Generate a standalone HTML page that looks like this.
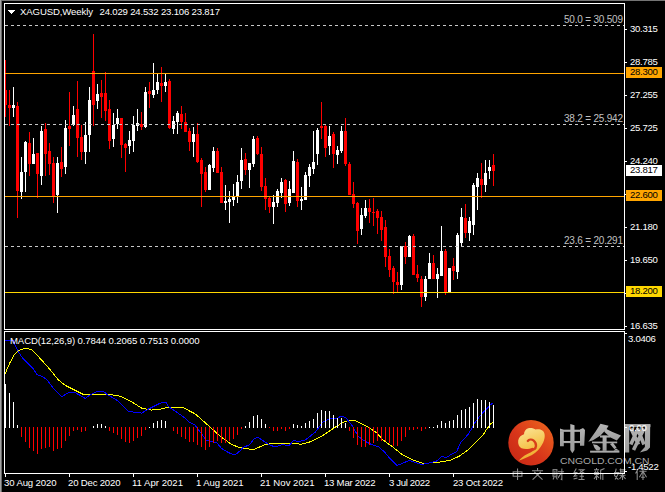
<!DOCTYPE html>
<html><head><meta charset="utf-8"><style>
html,body{margin:0;padding:0;background:#000;width:665px;height:492px;overflow:hidden}
svg{display:block}
text{font-family:"Liberation Sans", sans-serif;}
</style></head><body>
<svg width="665" height="492" viewBox="0 0 665 492" shape-rendering="crispEdges">
<rect x="0" y="0" width="665" height="492" fill="#000"/>
<rect x="0" y="0" width="665" height="1" fill="#747474"/>
<rect x="0" y="0" width="1" height="492" fill="#a2a2a2"/>
<rect x="1" y="1" width="1" height="492" fill="#686868"/>
<rect x="5" y="60" width="1" height="57" fill="#ff0000"/>
<rect x="5" y="90" width="2" height="15" fill="#ff0000"/>
<rect x="9" y="90" width="1" height="36" fill="#ff0000"/>
<rect x="8" y="105" width="3" height="3" fill="#ff0000"/>
<rect x="13" y="87" width="1" height="30" fill="#ffffff"/>
<rect x="12" y="105" width="3" height="3" fill="#ffffff"/>
<rect x="17" y="102" width="1" height="116" fill="#ff0000"/>
<rect x="16" y="106" width="3" height="85" fill="#ff0000"/>
<rect x="21" y="157" width="1" height="42" fill="#ffffff"/>
<rect x="20" y="172" width="3" height="20" fill="#ffffff"/>
<rect x="25" y="141" width="1" height="51" fill="#ffffff"/>
<rect x="24" y="142" width="3" height="30" fill="#ffffff"/>
<rect x="29" y="132" width="1" height="44" fill="#ff0000"/>
<rect x="28" y="143" width="3" height="21" fill="#ff0000"/>
<rect x="33" y="138" width="1" height="26" fill="#ffffff"/>
<rect x="32" y="154" width="3" height="10" fill="#ffffff"/>
<rect x="37" y="153" width="1" height="45" fill="#ff0000"/>
<rect x="36" y="153" width="3" height="21" fill="#ff0000"/>
<rect x="41" y="126" width="1" height="59" fill="#ffffff"/>
<rect x="40" y="131" width="3" height="45" fill="#ffffff"/>
<rect x="45" y="123" width="1" height="53" fill="#ff0000"/>
<rect x="44" y="129" width="3" height="25" fill="#ff0000"/>
<rect x="49" y="143" width="1" height="32" fill="#ff0000"/>
<rect x="48" y="151" width="3" height="13" fill="#ff0000"/>
<rect x="53" y="157" width="1" height="46" fill="#ff0000"/>
<rect x="52" y="163" width="3" height="33" fill="#ff0000"/>
<rect x="57" y="157" width="1" height="56" fill="#ffffff"/>
<rect x="56" y="163" width="3" height="32" fill="#ffffff"/>
<rect x="61" y="147" width="1" height="30" fill="#ff0000"/>
<rect x="60" y="162" width="3" height="7" fill="#ff0000"/>
<rect x="65" y="120" width="1" height="54" fill="#ffffff"/>
<rect x="64" y="128" width="3" height="39" fill="#ffffff"/>
<rect x="69" y="92" width="1" height="54" fill="#ff0000"/>
<rect x="68" y="126" width="3" height="3" fill="#ff0000"/>
<rect x="73" y="106" width="1" height="20" fill="#ffffff"/>
<rect x="72" y="115" width="3" height="10" fill="#ffffff"/>
<rect x="77" y="81" width="1" height="76" fill="#ff0000"/>
<rect x="76" y="109" width="3" height="29" fill="#ff0000"/>
<rect x="81" y="125" width="1" height="35" fill="#ff0000"/>
<rect x="80" y="137" width="3" height="15" fill="#ff0000"/>
<rect x="85" y="122" width="1" height="42" fill="#ffffff"/>
<rect x="84" y="135" width="3" height="17" fill="#ffffff"/>
<rect x="89" y="87" width="1" height="65" fill="#ffffff"/>
<rect x="88" y="100" width="3" height="35" fill="#ffffff"/>
<rect x="93" y="34" width="1" height="92" fill="#ff0000"/>
<rect x="92" y="71" width="3" height="34" fill="#ff0000"/>
<rect x="97" y="84" width="1" height="25" fill="#ffffff"/>
<rect x="96" y="94" width="3" height="7" fill="#ffffff"/>
<rect x="101" y="80" width="1" height="38" fill="#ff0000"/>
<rect x="100" y="93" width="3" height="4" fill="#ff0000"/>
<rect x="105" y="72" width="1" height="49" fill="#ff0000"/>
<rect x="104" y="93" width="3" height="18" fill="#ff0000"/>
<rect x="109" y="100" width="1" height="49" fill="#ff0000"/>
<rect x="108" y="109" width="3" height="32" fill="#ff0000"/>
<rect x="113" y="113" width="1" height="34" fill="#ffffff"/>
<rect x="112" y="125" width="3" height="14" fill="#ffffff"/>
<rect x="117" y="109" width="1" height="20" fill="#ffffff"/>
<rect x="116" y="118" width="3" height="6" fill="#ffffff"/>
<rect x="121" y="118" width="1" height="40" fill="#ff0000"/>
<rect x="120" y="118" width="3" height="27" fill="#ff0000"/>
<rect x="125" y="143" width="1" height="29" fill="#ff0000"/>
<rect x="124" y="144" width="3" height="4" fill="#ff0000"/>
<rect x="129" y="131" width="1" height="23" fill="#ffffff"/>
<rect x="128" y="140" width="3" height="6" fill="#ffffff"/>
<rect x="133" y="116" width="1" height="36" fill="#ffffff"/>
<rect x="132" y="125" width="3" height="16" fill="#ffffff"/>
<rect x="137" y="109" width="1" height="22" fill="#ffffff"/>
<rect x="136" y="123" width="3" height="3" fill="#ffffff"/>
<rect x="141" y="112" width="1" height="18" fill="#ff0000"/>
<rect x="140" y="124" width="3" height="3" fill="#ff0000"/>
<rect x="145" y="87" width="1" height="41" fill="#ffffff"/>
<rect x="144" y="92" width="3" height="35" fill="#ffffff"/>
<rect x="149" y="82" width="1" height="26" fill="#ff0000"/>
<rect x="148" y="91" width="3" height="3" fill="#ff0000"/>
<rect x="153" y="63" width="1" height="35" fill="#ffffff"/>
<rect x="152" y="90" width="3" height="5" fill="#ffffff"/>
<rect x="157" y="74" width="1" height="20" fill="#ffffff"/>
<rect x="156" y="82" width="3" height="8" fill="#ffffff"/>
<rect x="161" y="67" width="1" height="35" fill="#ff0000"/>
<rect x="160" y="83" width="3" height="3" fill="#ff0000"/>
<rect x="165" y="74" width="1" height="18" fill="#ffffff"/>
<rect x="164" y="82" width="3" height="4" fill="#ffffff"/>
<rect x="169" y="79" width="1" height="50" fill="#ff0000"/>
<rect x="168" y="81" width="3" height="47" fill="#ff0000"/>
<rect x="173" y="116" width="1" height="18" fill="#ffffff"/>
<rect x="172" y="121" width="3" height="8" fill="#ffffff"/>
<rect x="177" y="111" width="1" height="23" fill="#ffffff"/>
<rect x="176" y="113" width="3" height="9" fill="#ffffff"/>
<rect x="181" y="106" width="1" height="23" fill="#ff0000"/>
<rect x="180" y="114" width="3" height="8" fill="#ff0000"/>
<rect x="185" y="113" width="1" height="19" fill="#ff0000"/>
<rect x="184" y="122" width="3" height="10" fill="#ff0000"/>
<rect x="189" y="128" width="1" height="23" fill="#ff0000"/>
<rect x="188" y="131" width="3" height="11" fill="#ff0000"/>
<rect x="193" y="127" width="1" height="30" fill="#ffffff"/>
<rect x="192" y="134" width="3" height="8" fill="#ffffff"/>
<rect x="197" y="123" width="1" height="40" fill="#ff0000"/>
<rect x="196" y="134" width="3" height="28" fill="#ff0000"/>
<rect x="201" y="158" width="1" height="49" fill="#ff0000"/>
<rect x="200" y="160" width="3" height="14" fill="#ff0000"/>
<rect x="205" y="167" width="1" height="25" fill="#ff0000"/>
<rect x="204" y="172" width="3" height="18" fill="#ff0000"/>
<rect x="209" y="164" width="1" height="26" fill="#ffffff"/>
<rect x="208" y="165" width="3" height="25" fill="#ffffff"/>
<rect x="213" y="147" width="1" height="25" fill="#ffffff"/>
<rect x="212" y="151" width="3" height="17" fill="#ffffff"/>
<rect x="217" y="148" width="1" height="25" fill="#ff0000"/>
<rect x="216" y="151" width="3" height="22" fill="#ff0000"/>
<rect x="221" y="167" width="1" height="36" fill="#ff0000"/>
<rect x="220" y="172" width="3" height="31" fill="#ff0000"/>
<rect x="225" y="185" width="1" height="25" fill="#ffffff"/>
<rect x="224" y="201" width="3" height="2" fill="#ffffff"/>
<rect x="229" y="191" width="1" height="32" fill="#ffffff"/>
<rect x="228" y="199" width="3" height="3" fill="#ffffff"/>
<rect x="233" y="184" width="1" height="22" fill="#ffffff"/>
<rect x="232" y="197" width="3" height="3" fill="#ffffff"/>
<rect x="237" y="175" width="1" height="28" fill="#ffffff"/>
<rect x="236" y="182" width="3" height="14" fill="#ffffff"/>
<rect x="241" y="148" width="1" height="41" fill="#ffffff"/>
<rect x="240" y="160" width="3" height="21" fill="#ffffff"/>
<rect x="245" y="153" width="1" height="22" fill="#ff0000"/>
<rect x="244" y="159" width="3" height="11" fill="#ff0000"/>
<rect x="249" y="163" width="1" height="25" fill="#ffffff"/>
<rect x="248" y="163" width="3" height="7" fill="#ffffff"/>
<rect x="253" y="136" width="1" height="31" fill="#ffffff"/>
<rect x="252" y="139" width="3" height="25" fill="#ffffff"/>
<rect x="257" y="136" width="1" height="19" fill="#ff0000"/>
<rect x="256" y="138" width="3" height="16" fill="#ff0000"/>
<rect x="261" y="147" width="1" height="44" fill="#ff0000"/>
<rect x="260" y="154" width="3" height="33" fill="#ff0000"/>
<rect x="265" y="178" width="1" height="32" fill="#ff0000"/>
<rect x="264" y="186" width="3" height="13" fill="#ff0000"/>
<rect x="269" y="197" width="1" height="16" fill="#ff0000"/>
<rect x="268" y="198" width="3" height="9" fill="#ff0000"/>
<rect x="273" y="195" width="1" height="29" fill="#ffffff"/>
<rect x="272" y="202" width="3" height="5" fill="#ffffff"/>
<rect x="277" y="189" width="1" height="18" fill="#ffffff"/>
<rect x="276" y="191" width="3" height="12" fill="#ffffff"/>
<rect x="281" y="178" width="1" height="20" fill="#ffffff"/>
<rect x="280" y="182" width="3" height="11" fill="#ffffff"/>
<rect x="285" y="179" width="1" height="33" fill="#ff0000"/>
<rect x="284" y="180" width="3" height="24" fill="#ff0000"/>
<rect x="289" y="181" width="1" height="25" fill="#ffffff"/>
<rect x="288" y="189" width="3" height="14" fill="#ffffff"/>
<rect x="293" y="151" width="1" height="42" fill="#ffffff"/>
<rect x="292" y="161" width="3" height="32" fill="#ffffff"/>
<rect x="297" y="159" width="1" height="48" fill="#ff0000"/>
<rect x="296" y="162" width="3" height="39" fill="#ff0000"/>
<rect x="301" y="187" width="1" height="23" fill="#ffffff"/>
<rect x="300" y="199" width="3" height="2" fill="#ffffff"/>
<rect x="305" y="172" width="1" height="28" fill="#ffffff"/>
<rect x="304" y="175" width="3" height="25" fill="#ffffff"/>
<rect x="309" y="164" width="1" height="23" fill="#ffffff"/>
<rect x="308" y="167" width="3" height="9" fill="#ffffff"/>
<rect x="313" y="131" width="1" height="43" fill="#ffffff"/>
<rect x="312" y="162" width="3" height="7" fill="#ffffff"/>
<rect x="317" y="128" width="1" height="37" fill="#ffffff"/>
<rect x="316" y="130" width="3" height="24" fill="#ffffff"/>
<rect x="321" y="102" width="1" height="37" fill="#ff0000"/>
<rect x="320" y="126" width="3" height="2" fill="#ff0000"/>
<rect x="325" y="125" width="1" height="32" fill="#ff0000"/>
<rect x="324" y="126" width="3" height="22" fill="#ff0000"/>
<rect x="329" y="126" width="1" height="29" fill="#ffffff"/>
<rect x="328" y="136" width="3" height="10" fill="#ffffff"/>
<rect x="333" y="132" width="1" height="36" fill="#ff0000"/>
<rect x="332" y="134" width="3" height="20" fill="#ff0000"/>
<rect x="337" y="146" width="1" height="18" fill="#ffffff"/>
<rect x="336" y="150" width="3" height="5" fill="#ffffff"/>
<rect x="341" y="126" width="1" height="27" fill="#ffffff"/>
<rect x="340" y="131" width="3" height="20" fill="#ffffff"/>
<rect x="345" y="118" width="1" height="48" fill="#ff0000"/>
<rect x="344" y="131" width="3" height="33" fill="#ff0000"/>
<rect x="349" y="162" width="1" height="33" fill="#ff0000"/>
<rect x="348" y="164" width="3" height="31" fill="#ff0000"/>
<rect x="353" y="182" width="1" height="26" fill="#ff0000"/>
<rect x="352" y="194" width="3" height="10" fill="#ff0000"/>
<rect x="357" y="202" width="1" height="42" fill="#ff0000"/>
<rect x="356" y="203" width="3" height="28" fill="#ff0000"/>
<rect x="361" y="208" width="1" height="27" fill="#ffffff"/>
<rect x="360" y="215" width="3" height="14" fill="#ffffff"/>
<rect x="365" y="200" width="1" height="18" fill="#ffffff"/>
<rect x="364" y="208" width="3" height="8" fill="#ffffff"/>
<rect x="369" y="199" width="1" height="24" fill="#ff0000"/>
<rect x="368" y="208" width="3" height="4" fill="#ff0000"/>
<rect x="373" y="198" width="1" height="28" fill="#ff0000"/>
<rect x="372" y="212" width="3" height="1" fill="#ff0000"/>
<rect x="377" y="209" width="1" height="25" fill="#ff0000"/>
<rect x="376" y="211" width="3" height="7" fill="#ff0000"/>
<rect x="381" y="211" width="1" height="30" fill="#ff0000"/>
<rect x="380" y="217" width="3" height="13" fill="#ff0000"/>
<rect x="385" y="220" width="1" height="47" fill="#ff0000"/>
<rect x="384" y="227" width="3" height="30" fill="#ff0000"/>
<rect x="389" y="249" width="1" height="28" fill="#ff0000"/>
<rect x="388" y="256" width="3" height="14" fill="#ff0000"/>
<rect x="393" y="266" width="1" height="28" fill="#ff0000"/>
<rect x="392" y="268" width="3" height="14" fill="#ff0000"/>
<rect x="397" y="272" width="1" height="20" fill="#ff0000"/>
<rect x="396" y="282" width="3" height="3" fill="#ff0000"/>
<rect x="401" y="246" width="1" height="44" fill="#ffffff"/>
<rect x="400" y="246" width="3" height="39" fill="#ffffff"/>
<rect x="405" y="242" width="1" height="22" fill="#ff0000"/>
<rect x="404" y="246" width="3" height="11" fill="#ff0000"/>
<rect x="409" y="235" width="1" height="22" fill="#ffffff"/>
<rect x="408" y="236" width="3" height="21" fill="#ffffff"/>
<rect x="413" y="234" width="1" height="41" fill="#ff0000"/>
<rect x="412" y="236" width="3" height="39" fill="#ff0000"/>
<rect x="417" y="265" width="1" height="17" fill="#ff0000"/>
<rect x="416" y="274" width="3" height="4" fill="#ff0000"/>
<rect x="421" y="276" width="1" height="31" fill="#ff0000"/>
<rect x="420" y="279" width="3" height="18" fill="#ff0000"/>
<rect x="425" y="276" width="1" height="25" fill="#ffffff"/>
<rect x="424" y="279" width="3" height="18" fill="#ffffff"/>
<rect x="429" y="253" width="1" height="26" fill="#ffffff"/>
<rect x="428" y="263" width="3" height="16" fill="#ffffff"/>
<rect x="433" y="255" width="1" height="24" fill="#ff0000"/>
<rect x="432" y="263" width="3" height="16" fill="#ff0000"/>
<rect x="437" y="268" width="1" height="30" fill="#ffffff"/>
<rect x="436" y="274" width="3" height="5" fill="#ffffff"/>
<rect x="441" y="226" width="1" height="50" fill="#ffffff"/>
<rect x="440" y="251" width="3" height="25" fill="#ffffff"/>
<rect x="445" y="249" width="1" height="46" fill="#ff0000"/>
<rect x="444" y="251" width="3" height="41" fill="#ff0000"/>
<rect x="449" y="268" width="1" height="24" fill="#ffffff"/>
<rect x="448" y="268" width="3" height="24" fill="#ffffff"/>
<rect x="453" y="258" width="1" height="22" fill="#ff0000"/>
<rect x="452" y="266" width="3" height="5" fill="#ff0000"/>
<rect x="457" y="233" width="1" height="46" fill="#ffffff"/>
<rect x="456" y="235" width="3" height="37" fill="#ffffff"/>
<rect x="461" y="208" width="1" height="38" fill="#ffffff"/>
<rect x="460" y="217" width="3" height="26" fill="#ffffff"/>
<rect x="465" y="204" width="1" height="34" fill="#ff0000"/>
<rect x="464" y="218" width="3" height="15" fill="#ff0000"/>
<rect x="469" y="217" width="1" height="24" fill="#ffffff"/>
<rect x="468" y="221" width="3" height="12" fill="#ffffff"/>
<rect x="473" y="183" width="1" height="52" fill="#ffffff"/>
<rect x="472" y="185" width="3" height="40" fill="#ffffff"/>
<rect x="477" y="173" width="1" height="37" fill="#ffffff"/>
<rect x="476" y="178" width="3" height="9" fill="#ffffff"/>
<rect x="481" y="163" width="1" height="35" fill="#ff0000"/>
<rect x="480" y="179" width="3" height="6" fill="#ff0000"/>
<rect x="485" y="160" width="1" height="32" fill="#ffffff"/>
<rect x="484" y="173" width="3" height="12" fill="#ffffff"/>
<rect x="489" y="160" width="1" height="19" fill="#ffffff"/>
<rect x="488" y="167" width="3" height="4" fill="#ffffff"/>
<rect x="493" y="154" width="1" height="32" fill="#ff0000"/>
<rect x="492" y="165" width="3" height="6" fill="#ff0000"/>
<polyline points="5.0,374.0 9.5,363.5 14.4,354.6 19.3,350.2 25.8,348.0 32.3,350.2 38.8,357.0 46.9,366.0 51.8,371.7 58.3,379.8 65.0,385.2 75.0,390.3 83.0,394.3 95.2,394.3 110.6,394.6 120.4,396.3 131.8,402.0 141.5,408.0 151.3,410.1 159.4,409.3 163.0,408.5 167.9,407.3 182.5,407.3 195.5,414.1 210.2,427.2 219.9,436.1 231.3,444.2 237.8,447.0 243.0,448.3 253.6,449.6 264.1,445.0 271.5,443.4 290.2,443.4 301.5,444.2 311.3,441.5 319.4,437.2 323.0,435.3 332.8,428.8 342.5,422.6 349.0,420.3 354.7,420.3 366.9,426.3 376.7,432.8 383.2,440.2 391.3,445.9 403.0,455.1 411.4,459.4 423.6,463.4 437.8,462.4 450.0,460.4 459.1,456.3 468.0,449.9 477.8,440.2 483.0,435.0 487.4,428.2 490.6,424.1 492.7,422.1" fill="none" stroke="#ffff00" stroke-width="1" shape-rendering="crispEdges"/>
<polyline points="5.0,340.0 13.0,340.0 15.2,345.6 18.4,352.0 22.5,357.8 27.4,362.7 32.3,367.6 37.1,374.6 42.0,376.2 46.9,379.8 51.8,386.3 56.7,392.0 61.9,396.6 68.0,392.8 74.0,392.0 83.0,397.0 85.4,398.7 87.9,396.3 96.8,391.4 103.3,391.4 107.4,394.6 117.1,400.3 128.5,411.7 139.9,412.5 141.5,413.3 148.0,409.3 159.4,403.6 163.0,402.4 166.3,402.8 168.7,406.8 176.0,411.7 184.1,417.4 189.8,422.6 194.7,424.7 199.6,431.2 206.1,440.2 211.8,441.5 216.7,442.6 221.5,448.3 228.0,452.4 232.9,454.5 236.2,454.0 241.0,449.9 243.0,447.5 249.5,444.7 253.6,439.3 257.6,437.2 262.5,440.2 267.4,443.7 273.1,446.3 277.1,446.3 282.0,444.7 289.3,445.4 293.4,440.5 299.1,441.5 304.8,440.2 311.3,435.3 315.4,432.0 322.7,422.3 329.5,418.7 336.8,418.7 340.9,416.1 345.8,417.7 352.3,425.9 358.0,436.1 363.7,440.5 371.8,444.7 379.1,447.0 384.8,452.4 391.3,460.0 397.2,465.5 409.3,460.4 421.5,464.5 427.6,463.4 435.8,461.4 438.0,460.0 442.0,456.1 446.1,457.7 451.8,454.0 456.7,451.5 460.7,442.6 468.0,434.5 471.5,429.0 474.4,423.3 479.3,416.8 482.5,413.2 486.6,408.7 489.0,406.3 490.6,404.5 492.7,403.2" fill="none" stroke="#0000ff" stroke-width="1" shape-rendering="crispEdges"/>
<rect x="5" y="384" width="1" height="44" fill="#ffffff"/>
<rect x="9" y="393" width="1" height="35" fill="#ffffff"/>
<rect x="13" y="402" width="1" height="26" fill="#ffffff"/>
<rect x="17" y="425" width="1" height="3" fill="#ffffff"/>
<rect x="21" y="427" width="1" height="10" fill="#ff0000"/>
<rect x="25" y="427" width="1" height="15" fill="#ff0000"/>
<rect x="29" y="427" width="1" height="21" fill="#ff0000"/>
<rect x="33" y="427" width="1" height="24" fill="#ff0000"/>
<rect x="37" y="427" width="1" height="27" fill="#ff0000"/>
<rect x="41" y="427" width="1" height="22" fill="#ff0000"/>
<rect x="45" y="427" width="1" height="21" fill="#ff0000"/>
<rect x="49" y="427" width="1" height="20" fill="#ff0000"/>
<rect x="53" y="427" width="1" height="24" fill="#ff0000"/>
<rect x="57" y="427" width="1" height="22" fill="#ff0000"/>
<rect x="61" y="427" width="1" height="21" fill="#ff0000"/>
<rect x="65" y="427" width="1" height="14" fill="#ff0000"/>
<rect x="69" y="427" width="1" height="9" fill="#ff0000"/>
<rect x="73" y="427" width="1" height="4" fill="#ff0000"/>
<rect x="77" y="427" width="1" height="3" fill="#ff0000"/>
<rect x="81" y="427" width="1" height="5" fill="#ff0000"/>
<rect x="85" y="427" width="1" height="4" fill="#ff0000"/>
<rect x="93" y="426" width="1" height="2" fill="#ffffff"/>
<rect x="97" y="424" width="1" height="4" fill="#ffffff"/>
<rect x="101" y="424" width="1" height="4" fill="#ffffff"/>
<rect x="105" y="426" width="1" height="2" fill="#ffffff"/>
<rect x="109" y="427" width="1" height="4" fill="#ff0000"/>
<rect x="113" y="427" width="1" height="6" fill="#ff0000"/>
<rect x="117" y="427" width="1" height="8" fill="#ff0000"/>
<rect x="121" y="427" width="1" height="12" fill="#ff0000"/>
<rect x="125" y="427" width="1" height="15" fill="#ff0000"/>
<rect x="129" y="427" width="1" height="16" fill="#ff0000"/>
<rect x="133" y="427" width="1" height="14" fill="#ff0000"/>
<rect x="137" y="427" width="1" height="11" fill="#ff0000"/>
<rect x="141" y="427" width="1" height="9" fill="#ff0000"/>
<rect x="145" y="427" width="1" height="3" fill="#ff0000"/>
<rect x="149" y="427" width="1" height="1" fill="#ffffff"/>
<rect x="153" y="423" width="1" height="5" fill="#ffffff"/>
<rect x="157" y="421" width="1" height="7" fill="#ffffff"/>
<rect x="161" y="420" width="1" height="8" fill="#ffffff"/>
<rect x="165" y="421" width="1" height="7" fill="#ffffff"/>
<rect x="173" y="427" width="1" height="4" fill="#ff0000"/>
<rect x="177" y="427" width="1" height="7" fill="#ff0000"/>
<rect x="181" y="427" width="1" height="10" fill="#ff0000"/>
<rect x="185" y="427" width="1" height="12" fill="#ff0000"/>
<rect x="189" y="427" width="1" height="15" fill="#ff0000"/>
<rect x="193" y="427" width="1" height="15" fill="#ff0000"/>
<rect x="197" y="427" width="1" height="18" fill="#ff0000"/>
<rect x="201" y="427" width="1" height="20" fill="#ff0000"/>
<rect x="205" y="427" width="1" height="23" fill="#ff0000"/>
<rect x="209" y="427" width="1" height="20" fill="#ff0000"/>
<rect x="213" y="427" width="1" height="16" fill="#ff0000"/>
<rect x="217" y="427" width="1" height="14" fill="#ff0000"/>
<rect x="221" y="427" width="1" height="16" fill="#ff0000"/>
<rect x="225" y="427" width="1" height="16" fill="#ff0000"/>
<rect x="229" y="427" width="1" height="14" fill="#ff0000"/>
<rect x="233" y="427" width="1" height="12" fill="#ff0000"/>
<rect x="237" y="427" width="1" height="8" fill="#ff0000"/>
<rect x="241" y="427" width="1" height="2" fill="#ff0000"/>
<rect x="245" y="426" width="1" height="2" fill="#ffffff"/>
<rect x="249" y="422" width="1" height="6" fill="#ffffff"/>
<rect x="253" y="416" width="1" height="12" fill="#ffffff"/>
<rect x="257" y="415" width="1" height="13" fill="#ffffff"/>
<rect x="261" y="419" width="1" height="9" fill="#ffffff"/>
<rect x="265" y="424" width="1" height="4" fill="#ffffff"/>
<rect x="269" y="427" width="1" height="1" fill="#ff0000"/>
<rect x="273" y="427" width="1" height="4" fill="#ff0000"/>
<rect x="277" y="427" width="1" height="4" fill="#ff0000"/>
<rect x="281" y="427" width="1" height="2" fill="#ff0000"/>
<rect x="285" y="427" width="1" height="4" fill="#ff0000"/>
<rect x="289" y="427" width="1" height="2" fill="#ff0000"/>
<rect x="293" y="424" width="1" height="4" fill="#ffffff"/>
<rect x="297" y="425" width="1" height="3" fill="#ffffff"/>
<rect x="301" y="426" width="1" height="2" fill="#ffffff"/>
<rect x="305" y="423" width="1" height="5" fill="#ffffff"/>
<rect x="309" y="421" width="1" height="7" fill="#ffffff"/>
<rect x="313" y="419" width="1" height="9" fill="#ffffff"/>
<rect x="317" y="413" width="1" height="15" fill="#ffffff"/>
<rect x="321" y="410" width="1" height="18" fill="#ffffff"/>
<rect x="325" y="411" width="1" height="17" fill="#ffffff"/>
<rect x="329" y="411" width="1" height="17" fill="#ffffff"/>
<rect x="333" y="415" width="1" height="13" fill="#ffffff"/>
<rect x="337" y="418" width="1" height="10" fill="#ffffff"/>
<rect x="341" y="418" width="1" height="10" fill="#ffffff"/>
<rect x="345" y="423" width="1" height="5" fill="#ffffff"/>
<rect x="349" y="427" width="1" height="4" fill="#ff0000"/>
<rect x="353" y="427" width="1" height="11" fill="#ff0000"/>
<rect x="357" y="427" width="1" height="18" fill="#ff0000"/>
<rect x="361" y="427" width="1" height="20" fill="#ff0000"/>
<rect x="365" y="427" width="1" height="20" fill="#ff0000"/>
<rect x="369" y="427" width="1" height="18" fill="#ff0000"/>
<rect x="373" y="427" width="1" height="16" fill="#ff0000"/>
<rect x="377" y="427" width="1" height="14" fill="#ff0000"/>
<rect x="381" y="427" width="1" height="14" fill="#ff0000"/>
<rect x="385" y="427" width="1" height="14" fill="#ff0000"/>
<rect x="389" y="427" width="1" height="16" fill="#ff0000"/>
<rect x="393" y="427" width="1" height="19" fill="#ff0000"/>
<rect x="397" y="427" width="1" height="19" fill="#ff0000"/>
<rect x="401" y="427" width="1" height="14" fill="#ff0000"/>
<rect x="405" y="427" width="1" height="10" fill="#ff0000"/>
<rect x="409" y="427" width="1" height="3" fill="#ff0000"/>
<rect x="413" y="427" width="1" height="3" fill="#ff0000"/>
<rect x="417" y="427" width="1" height="2" fill="#ff0000"/>
<rect x="421" y="427" width="1" height="4" fill="#ff0000"/>
<rect x="425" y="427" width="1" height="2" fill="#ff0000"/>
<rect x="429" y="427" width="1" height="1" fill="#ffffff"/>
<rect x="433" y="427" width="1" height="1" fill="#ffffff"/>
<rect x="437" y="425" width="1" height="3" fill="#ffffff"/>
<rect x="441" y="421" width="1" height="7" fill="#ffffff"/>
<rect x="445" y="423" width="1" height="5" fill="#ffffff"/>
<rect x="449" y="421" width="1" height="7" fill="#ffffff"/>
<rect x="453" y="420" width="1" height="8" fill="#ffffff"/>
<rect x="457" y="415" width="1" height="13" fill="#ffffff"/>
<rect x="461" y="410" width="1" height="18" fill="#ffffff"/>
<rect x="465" y="409" width="1" height="19" fill="#ffffff"/>
<rect x="469" y="407" width="1" height="21" fill="#ffffff"/>
<rect x="473" y="403" width="1" height="25" fill="#ffffff"/>
<rect x="477" y="399" width="1" height="29" fill="#ffffff"/>
<rect x="481" y="400" width="1" height="28" fill="#ffffff"/>
<rect x="485" y="400" width="1" height="28" fill="#ffffff"/>
<rect x="489" y="402" width="1" height="26" fill="#ffffff"/>
<rect x="493" y="405" width="1" height="23" fill="#ffffff"/>
<rect x="5" y="25" width="3" height="1" fill="#c8c8c8"/>
<rect x="11" y="25" width="3" height="1" fill="#c8c8c8"/>
<rect x="17" y="25" width="3" height="1" fill="#c8c8c8"/>
<rect x="23" y="25" width="3" height="1" fill="#c8c8c8"/>
<rect x="29" y="25" width="3" height="1" fill="#c8c8c8"/>
<rect x="35" y="25" width="3" height="1" fill="#c8c8c8"/>
<rect x="41" y="25" width="3" height="1" fill="#c8c8c8"/>
<rect x="47" y="25" width="3" height="1" fill="#c8c8c8"/>
<rect x="53" y="25" width="3" height="1" fill="#c8c8c8"/>
<rect x="59" y="25" width="3" height="1" fill="#c8c8c8"/>
<rect x="65" y="25" width="3" height="1" fill="#c8c8c8"/>
<rect x="71" y="25" width="3" height="1" fill="#c8c8c8"/>
<rect x="77" y="25" width="3" height="1" fill="#c8c8c8"/>
<rect x="83" y="25" width="3" height="1" fill="#c8c8c8"/>
<rect x="89" y="25" width="3" height="1" fill="#c8c8c8"/>
<rect x="95" y="25" width="3" height="1" fill="#c8c8c8"/>
<rect x="101" y="25" width="3" height="1" fill="#c8c8c8"/>
<rect x="107" y="25" width="3" height="1" fill="#c8c8c8"/>
<rect x="113" y="25" width="3" height="1" fill="#c8c8c8"/>
<rect x="119" y="25" width="3" height="1" fill="#c8c8c8"/>
<rect x="125" y="25" width="3" height="1" fill="#c8c8c8"/>
<rect x="131" y="25" width="3" height="1" fill="#c8c8c8"/>
<rect x="137" y="25" width="3" height="1" fill="#c8c8c8"/>
<rect x="143" y="25" width="3" height="1" fill="#c8c8c8"/>
<rect x="149" y="25" width="3" height="1" fill="#c8c8c8"/>
<rect x="155" y="25" width="3" height="1" fill="#c8c8c8"/>
<rect x="161" y="25" width="3" height="1" fill="#c8c8c8"/>
<rect x="167" y="25" width="3" height="1" fill="#c8c8c8"/>
<rect x="173" y="25" width="3" height="1" fill="#c8c8c8"/>
<rect x="179" y="25" width="3" height="1" fill="#c8c8c8"/>
<rect x="185" y="25" width="3" height="1" fill="#c8c8c8"/>
<rect x="191" y="25" width="3" height="1" fill="#c8c8c8"/>
<rect x="197" y="25" width="3" height="1" fill="#c8c8c8"/>
<rect x="203" y="25" width="3" height="1" fill="#c8c8c8"/>
<rect x="209" y="25" width="3" height="1" fill="#c8c8c8"/>
<rect x="215" y="25" width="3" height="1" fill="#c8c8c8"/>
<rect x="221" y="25" width="3" height="1" fill="#c8c8c8"/>
<rect x="227" y="25" width="3" height="1" fill="#c8c8c8"/>
<rect x="233" y="25" width="3" height="1" fill="#c8c8c8"/>
<rect x="239" y="25" width="3" height="1" fill="#c8c8c8"/>
<rect x="245" y="25" width="3" height="1" fill="#c8c8c8"/>
<rect x="251" y="25" width="3" height="1" fill="#c8c8c8"/>
<rect x="257" y="25" width="3" height="1" fill="#c8c8c8"/>
<rect x="263" y="25" width="3" height="1" fill="#c8c8c8"/>
<rect x="269" y="25" width="3" height="1" fill="#c8c8c8"/>
<rect x="275" y="25" width="3" height="1" fill="#c8c8c8"/>
<rect x="281" y="25" width="3" height="1" fill="#c8c8c8"/>
<rect x="287" y="25" width="3" height="1" fill="#c8c8c8"/>
<rect x="293" y="25" width="3" height="1" fill="#c8c8c8"/>
<rect x="299" y="25" width="3" height="1" fill="#c8c8c8"/>
<rect x="305" y="25" width="3" height="1" fill="#c8c8c8"/>
<rect x="311" y="25" width="3" height="1" fill="#c8c8c8"/>
<rect x="317" y="25" width="3" height="1" fill="#c8c8c8"/>
<rect x="323" y="25" width="3" height="1" fill="#c8c8c8"/>
<rect x="329" y="25" width="3" height="1" fill="#c8c8c8"/>
<rect x="335" y="25" width="3" height="1" fill="#c8c8c8"/>
<rect x="341" y="25" width="3" height="1" fill="#c8c8c8"/>
<rect x="347" y="25" width="3" height="1" fill="#c8c8c8"/>
<rect x="353" y="25" width="3" height="1" fill="#c8c8c8"/>
<rect x="359" y="25" width="3" height="1" fill="#c8c8c8"/>
<rect x="365" y="25" width="3" height="1" fill="#c8c8c8"/>
<rect x="371" y="25" width="3" height="1" fill="#c8c8c8"/>
<rect x="377" y="25" width="3" height="1" fill="#c8c8c8"/>
<rect x="383" y="25" width="3" height="1" fill="#c8c8c8"/>
<rect x="389" y="25" width="3" height="1" fill="#c8c8c8"/>
<rect x="395" y="25" width="3" height="1" fill="#c8c8c8"/>
<rect x="401" y="25" width="3" height="1" fill="#c8c8c8"/>
<rect x="407" y="25" width="3" height="1" fill="#c8c8c8"/>
<rect x="413" y="25" width="3" height="1" fill="#c8c8c8"/>
<rect x="419" y="25" width="3" height="1" fill="#c8c8c8"/>
<rect x="425" y="25" width="3" height="1" fill="#c8c8c8"/>
<rect x="431" y="25" width="3" height="1" fill="#c8c8c8"/>
<rect x="437" y="25" width="3" height="1" fill="#c8c8c8"/>
<rect x="443" y="25" width="3" height="1" fill="#c8c8c8"/>
<rect x="449" y="25" width="3" height="1" fill="#c8c8c8"/>
<rect x="455" y="25" width="3" height="1" fill="#c8c8c8"/>
<rect x="461" y="25" width="3" height="1" fill="#c8c8c8"/>
<rect x="467" y="25" width="3" height="1" fill="#c8c8c8"/>
<rect x="473" y="25" width="3" height="1" fill="#c8c8c8"/>
<rect x="479" y="25" width="3" height="1" fill="#c8c8c8"/>
<rect x="485" y="25" width="3" height="1" fill="#c8c8c8"/>
<rect x="491" y="25" width="3" height="1" fill="#c8c8c8"/>
<rect x="497" y="25" width="3" height="1" fill="#c8c8c8"/>
<rect x="503" y="25" width="3" height="1" fill="#c8c8c8"/>
<rect x="509" y="25" width="3" height="1" fill="#c8c8c8"/>
<rect x="515" y="25" width="3" height="1" fill="#c8c8c8"/>
<rect x="521" y="25" width="3" height="1" fill="#c8c8c8"/>
<rect x="527" y="25" width="3" height="1" fill="#c8c8c8"/>
<rect x="533" y="25" width="3" height="1" fill="#c8c8c8"/>
<rect x="539" y="25" width="3" height="1" fill="#c8c8c8"/>
<rect x="545" y="25" width="3" height="1" fill="#c8c8c8"/>
<rect x="551" y="25" width="3" height="1" fill="#c8c8c8"/>
<rect x="557" y="25" width="3" height="1" fill="#c8c8c8"/>
<rect x="563" y="25" width="3" height="1" fill="#c8c8c8"/>
<rect x="569" y="25" width="3" height="1" fill="#c8c8c8"/>
<rect x="575" y="25" width="3" height="1" fill="#c8c8c8"/>
<rect x="581" y="25" width="3" height="1" fill="#c8c8c8"/>
<rect x="587" y="25" width="3" height="1" fill="#c8c8c8"/>
<rect x="593" y="25" width="3" height="1" fill="#c8c8c8"/>
<rect x="599" y="25" width="3" height="1" fill="#c8c8c8"/>
<rect x="605" y="25" width="3" height="1" fill="#c8c8c8"/>
<rect x="611" y="25" width="3" height="1" fill="#c8c8c8"/>
<rect x="617" y="25" width="3" height="1" fill="#c8c8c8"/>
<rect x="623" y="25" width="1" height="1" fill="#c8c8c8"/>
<rect x="5" y="124" width="3" height="1" fill="#c8c8c8"/>
<rect x="11" y="124" width="3" height="1" fill="#c8c8c8"/>
<rect x="17" y="124" width="3" height="1" fill="#c8c8c8"/>
<rect x="23" y="124" width="3" height="1" fill="#c8c8c8"/>
<rect x="29" y="124" width="3" height="1" fill="#c8c8c8"/>
<rect x="35" y="124" width="3" height="1" fill="#c8c8c8"/>
<rect x="41" y="124" width="3" height="1" fill="#c8c8c8"/>
<rect x="47" y="124" width="3" height="1" fill="#c8c8c8"/>
<rect x="53" y="124" width="3" height="1" fill="#c8c8c8"/>
<rect x="59" y="124" width="3" height="1" fill="#c8c8c8"/>
<rect x="65" y="124" width="3" height="1" fill="#c8c8c8"/>
<rect x="71" y="124" width="3" height="1" fill="#c8c8c8"/>
<rect x="77" y="124" width="3" height="1" fill="#c8c8c8"/>
<rect x="83" y="124" width="3" height="1" fill="#c8c8c8"/>
<rect x="89" y="124" width="3" height="1" fill="#c8c8c8"/>
<rect x="95" y="124" width="3" height="1" fill="#c8c8c8"/>
<rect x="101" y="124" width="3" height="1" fill="#c8c8c8"/>
<rect x="107" y="124" width="3" height="1" fill="#c8c8c8"/>
<rect x="113" y="124" width="3" height="1" fill="#c8c8c8"/>
<rect x="119" y="124" width="3" height="1" fill="#c8c8c8"/>
<rect x="125" y="124" width="3" height="1" fill="#c8c8c8"/>
<rect x="131" y="124" width="3" height="1" fill="#c8c8c8"/>
<rect x="137" y="124" width="3" height="1" fill="#c8c8c8"/>
<rect x="143" y="124" width="3" height="1" fill="#c8c8c8"/>
<rect x="149" y="124" width="3" height="1" fill="#c8c8c8"/>
<rect x="155" y="124" width="3" height="1" fill="#c8c8c8"/>
<rect x="161" y="124" width="3" height="1" fill="#c8c8c8"/>
<rect x="167" y="124" width="3" height="1" fill="#c8c8c8"/>
<rect x="173" y="124" width="3" height="1" fill="#c8c8c8"/>
<rect x="179" y="124" width="3" height="1" fill="#c8c8c8"/>
<rect x="185" y="124" width="3" height="1" fill="#c8c8c8"/>
<rect x="191" y="124" width="3" height="1" fill="#c8c8c8"/>
<rect x="197" y="124" width="3" height="1" fill="#c8c8c8"/>
<rect x="203" y="124" width="3" height="1" fill="#c8c8c8"/>
<rect x="209" y="124" width="3" height="1" fill="#c8c8c8"/>
<rect x="215" y="124" width="3" height="1" fill="#c8c8c8"/>
<rect x="221" y="124" width="3" height="1" fill="#c8c8c8"/>
<rect x="227" y="124" width="3" height="1" fill="#c8c8c8"/>
<rect x="233" y="124" width="3" height="1" fill="#c8c8c8"/>
<rect x="239" y="124" width="3" height="1" fill="#c8c8c8"/>
<rect x="245" y="124" width="3" height="1" fill="#c8c8c8"/>
<rect x="251" y="124" width="3" height="1" fill="#c8c8c8"/>
<rect x="257" y="124" width="3" height="1" fill="#c8c8c8"/>
<rect x="263" y="124" width="3" height="1" fill="#c8c8c8"/>
<rect x="269" y="124" width="3" height="1" fill="#c8c8c8"/>
<rect x="275" y="124" width="3" height="1" fill="#c8c8c8"/>
<rect x="281" y="124" width="3" height="1" fill="#c8c8c8"/>
<rect x="287" y="124" width="3" height="1" fill="#c8c8c8"/>
<rect x="293" y="124" width="3" height="1" fill="#c8c8c8"/>
<rect x="299" y="124" width="3" height="1" fill="#c8c8c8"/>
<rect x="305" y="124" width="3" height="1" fill="#c8c8c8"/>
<rect x="311" y="124" width="3" height="1" fill="#c8c8c8"/>
<rect x="317" y="124" width="3" height="1" fill="#c8c8c8"/>
<rect x="323" y="124" width="3" height="1" fill="#c8c8c8"/>
<rect x="329" y="124" width="3" height="1" fill="#c8c8c8"/>
<rect x="335" y="124" width="3" height="1" fill="#c8c8c8"/>
<rect x="341" y="124" width="3" height="1" fill="#c8c8c8"/>
<rect x="347" y="124" width="3" height="1" fill="#c8c8c8"/>
<rect x="353" y="124" width="3" height="1" fill="#c8c8c8"/>
<rect x="359" y="124" width="3" height="1" fill="#c8c8c8"/>
<rect x="365" y="124" width="3" height="1" fill="#c8c8c8"/>
<rect x="371" y="124" width="3" height="1" fill="#c8c8c8"/>
<rect x="377" y="124" width="3" height="1" fill="#c8c8c8"/>
<rect x="383" y="124" width="3" height="1" fill="#c8c8c8"/>
<rect x="389" y="124" width="3" height="1" fill="#c8c8c8"/>
<rect x="395" y="124" width="3" height="1" fill="#c8c8c8"/>
<rect x="401" y="124" width="3" height="1" fill="#c8c8c8"/>
<rect x="407" y="124" width="3" height="1" fill="#c8c8c8"/>
<rect x="413" y="124" width="3" height="1" fill="#c8c8c8"/>
<rect x="419" y="124" width="3" height="1" fill="#c8c8c8"/>
<rect x="425" y="124" width="3" height="1" fill="#c8c8c8"/>
<rect x="431" y="124" width="3" height="1" fill="#c8c8c8"/>
<rect x="437" y="124" width="3" height="1" fill="#c8c8c8"/>
<rect x="443" y="124" width="3" height="1" fill="#c8c8c8"/>
<rect x="449" y="124" width="3" height="1" fill="#c8c8c8"/>
<rect x="455" y="124" width="3" height="1" fill="#c8c8c8"/>
<rect x="461" y="124" width="3" height="1" fill="#c8c8c8"/>
<rect x="467" y="124" width="3" height="1" fill="#c8c8c8"/>
<rect x="473" y="124" width="3" height="1" fill="#c8c8c8"/>
<rect x="479" y="124" width="3" height="1" fill="#c8c8c8"/>
<rect x="485" y="124" width="3" height="1" fill="#c8c8c8"/>
<rect x="491" y="124" width="3" height="1" fill="#c8c8c8"/>
<rect x="497" y="124" width="3" height="1" fill="#c8c8c8"/>
<rect x="503" y="124" width="3" height="1" fill="#c8c8c8"/>
<rect x="509" y="124" width="3" height="1" fill="#c8c8c8"/>
<rect x="515" y="124" width="3" height="1" fill="#c8c8c8"/>
<rect x="521" y="124" width="3" height="1" fill="#c8c8c8"/>
<rect x="527" y="124" width="3" height="1" fill="#c8c8c8"/>
<rect x="533" y="124" width="3" height="1" fill="#c8c8c8"/>
<rect x="539" y="124" width="3" height="1" fill="#c8c8c8"/>
<rect x="545" y="124" width="3" height="1" fill="#c8c8c8"/>
<rect x="551" y="124" width="3" height="1" fill="#c8c8c8"/>
<rect x="557" y="124" width="3" height="1" fill="#c8c8c8"/>
<rect x="563" y="124" width="3" height="1" fill="#c8c8c8"/>
<rect x="569" y="124" width="3" height="1" fill="#c8c8c8"/>
<rect x="575" y="124" width="3" height="1" fill="#c8c8c8"/>
<rect x="581" y="124" width="3" height="1" fill="#c8c8c8"/>
<rect x="587" y="124" width="3" height="1" fill="#c8c8c8"/>
<rect x="593" y="124" width="3" height="1" fill="#c8c8c8"/>
<rect x="599" y="124" width="3" height="1" fill="#c8c8c8"/>
<rect x="605" y="124" width="3" height="1" fill="#c8c8c8"/>
<rect x="611" y="124" width="3" height="1" fill="#c8c8c8"/>
<rect x="617" y="124" width="3" height="1" fill="#c8c8c8"/>
<rect x="623" y="124" width="1" height="1" fill="#c8c8c8"/>
<rect x="5" y="246" width="3" height="1" fill="#c8c8c8"/>
<rect x="11" y="246" width="3" height="1" fill="#c8c8c8"/>
<rect x="17" y="246" width="3" height="1" fill="#c8c8c8"/>
<rect x="23" y="246" width="3" height="1" fill="#c8c8c8"/>
<rect x="29" y="246" width="3" height="1" fill="#c8c8c8"/>
<rect x="35" y="246" width="3" height="1" fill="#c8c8c8"/>
<rect x="41" y="246" width="3" height="1" fill="#c8c8c8"/>
<rect x="47" y="246" width="3" height="1" fill="#c8c8c8"/>
<rect x="53" y="246" width="3" height="1" fill="#c8c8c8"/>
<rect x="59" y="246" width="3" height="1" fill="#c8c8c8"/>
<rect x="65" y="246" width="3" height="1" fill="#c8c8c8"/>
<rect x="71" y="246" width="3" height="1" fill="#c8c8c8"/>
<rect x="77" y="246" width="3" height="1" fill="#c8c8c8"/>
<rect x="83" y="246" width="3" height="1" fill="#c8c8c8"/>
<rect x="89" y="246" width="3" height="1" fill="#c8c8c8"/>
<rect x="95" y="246" width="3" height="1" fill="#c8c8c8"/>
<rect x="101" y="246" width="3" height="1" fill="#c8c8c8"/>
<rect x="107" y="246" width="3" height="1" fill="#c8c8c8"/>
<rect x="113" y="246" width="3" height="1" fill="#c8c8c8"/>
<rect x="119" y="246" width="3" height="1" fill="#c8c8c8"/>
<rect x="125" y="246" width="3" height="1" fill="#c8c8c8"/>
<rect x="131" y="246" width="3" height="1" fill="#c8c8c8"/>
<rect x="137" y="246" width="3" height="1" fill="#c8c8c8"/>
<rect x="143" y="246" width="3" height="1" fill="#c8c8c8"/>
<rect x="149" y="246" width="3" height="1" fill="#c8c8c8"/>
<rect x="155" y="246" width="3" height="1" fill="#c8c8c8"/>
<rect x="161" y="246" width="3" height="1" fill="#c8c8c8"/>
<rect x="167" y="246" width="3" height="1" fill="#c8c8c8"/>
<rect x="173" y="246" width="3" height="1" fill="#c8c8c8"/>
<rect x="179" y="246" width="3" height="1" fill="#c8c8c8"/>
<rect x="185" y="246" width="3" height="1" fill="#c8c8c8"/>
<rect x="191" y="246" width="3" height="1" fill="#c8c8c8"/>
<rect x="197" y="246" width="3" height="1" fill="#c8c8c8"/>
<rect x="203" y="246" width="3" height="1" fill="#c8c8c8"/>
<rect x="209" y="246" width="3" height="1" fill="#c8c8c8"/>
<rect x="215" y="246" width="3" height="1" fill="#c8c8c8"/>
<rect x="221" y="246" width="3" height="1" fill="#c8c8c8"/>
<rect x="227" y="246" width="3" height="1" fill="#c8c8c8"/>
<rect x="233" y="246" width="3" height="1" fill="#c8c8c8"/>
<rect x="239" y="246" width="3" height="1" fill="#c8c8c8"/>
<rect x="245" y="246" width="3" height="1" fill="#c8c8c8"/>
<rect x="251" y="246" width="3" height="1" fill="#c8c8c8"/>
<rect x="257" y="246" width="3" height="1" fill="#c8c8c8"/>
<rect x="263" y="246" width="3" height="1" fill="#c8c8c8"/>
<rect x="269" y="246" width="3" height="1" fill="#c8c8c8"/>
<rect x="275" y="246" width="3" height="1" fill="#c8c8c8"/>
<rect x="281" y="246" width="3" height="1" fill="#c8c8c8"/>
<rect x="287" y="246" width="3" height="1" fill="#c8c8c8"/>
<rect x="293" y="246" width="3" height="1" fill="#c8c8c8"/>
<rect x="299" y="246" width="3" height="1" fill="#c8c8c8"/>
<rect x="305" y="246" width="3" height="1" fill="#c8c8c8"/>
<rect x="311" y="246" width="3" height="1" fill="#c8c8c8"/>
<rect x="317" y="246" width="3" height="1" fill="#c8c8c8"/>
<rect x="323" y="246" width="3" height="1" fill="#c8c8c8"/>
<rect x="329" y="246" width="3" height="1" fill="#c8c8c8"/>
<rect x="335" y="246" width="3" height="1" fill="#c8c8c8"/>
<rect x="341" y="246" width="3" height="1" fill="#c8c8c8"/>
<rect x="347" y="246" width="3" height="1" fill="#c8c8c8"/>
<rect x="353" y="246" width="3" height="1" fill="#c8c8c8"/>
<rect x="359" y="246" width="3" height="1" fill="#c8c8c8"/>
<rect x="365" y="246" width="3" height="1" fill="#c8c8c8"/>
<rect x="371" y="246" width="3" height="1" fill="#c8c8c8"/>
<rect x="377" y="246" width="3" height="1" fill="#c8c8c8"/>
<rect x="383" y="246" width="3" height="1" fill="#c8c8c8"/>
<rect x="389" y="246" width="3" height="1" fill="#c8c8c8"/>
<rect x="395" y="246" width="3" height="1" fill="#c8c8c8"/>
<rect x="401" y="246" width="3" height="1" fill="#c8c8c8"/>
<rect x="407" y="246" width="3" height="1" fill="#c8c8c8"/>
<rect x="413" y="246" width="3" height="1" fill="#c8c8c8"/>
<rect x="419" y="246" width="3" height="1" fill="#c8c8c8"/>
<rect x="425" y="246" width="3" height="1" fill="#c8c8c8"/>
<rect x="431" y="246" width="3" height="1" fill="#c8c8c8"/>
<rect x="437" y="246" width="3" height="1" fill="#c8c8c8"/>
<rect x="443" y="246" width="3" height="1" fill="#c8c8c8"/>
<rect x="449" y="246" width="3" height="1" fill="#c8c8c8"/>
<rect x="455" y="246" width="3" height="1" fill="#c8c8c8"/>
<rect x="461" y="246" width="3" height="1" fill="#c8c8c8"/>
<rect x="467" y="246" width="3" height="1" fill="#c8c8c8"/>
<rect x="473" y="246" width="3" height="1" fill="#c8c8c8"/>
<rect x="479" y="246" width="3" height="1" fill="#c8c8c8"/>
<rect x="485" y="246" width="3" height="1" fill="#c8c8c8"/>
<rect x="491" y="246" width="3" height="1" fill="#c8c8c8"/>
<rect x="497" y="246" width="3" height="1" fill="#c8c8c8"/>
<rect x="503" y="246" width="3" height="1" fill="#c8c8c8"/>
<rect x="509" y="246" width="3" height="1" fill="#c8c8c8"/>
<rect x="515" y="246" width="3" height="1" fill="#c8c8c8"/>
<rect x="521" y="246" width="3" height="1" fill="#c8c8c8"/>
<rect x="527" y="246" width="3" height="1" fill="#c8c8c8"/>
<rect x="533" y="246" width="3" height="1" fill="#c8c8c8"/>
<rect x="539" y="246" width="3" height="1" fill="#c8c8c8"/>
<rect x="545" y="246" width="3" height="1" fill="#c8c8c8"/>
<rect x="551" y="246" width="3" height="1" fill="#c8c8c8"/>
<rect x="557" y="246" width="3" height="1" fill="#c8c8c8"/>
<rect x="563" y="246" width="3" height="1" fill="#c8c8c8"/>
<rect x="569" y="246" width="3" height="1" fill="#c8c8c8"/>
<rect x="575" y="246" width="3" height="1" fill="#c8c8c8"/>
<rect x="581" y="246" width="3" height="1" fill="#c8c8c8"/>
<rect x="587" y="246" width="3" height="1" fill="#c8c8c8"/>
<rect x="593" y="246" width="3" height="1" fill="#c8c8c8"/>
<rect x="599" y="246" width="3" height="1" fill="#c8c8c8"/>
<rect x="605" y="246" width="3" height="1" fill="#c8c8c8"/>
<rect x="611" y="246" width="3" height="1" fill="#c8c8c8"/>
<rect x="617" y="246" width="3" height="1" fill="#c8c8c8"/>
<rect x="623" y="246" width="1" height="1" fill="#c8c8c8"/>
<rect x="5" y="73" width="619" height="1" fill="#ffa500"/>
<rect x="5" y="196" width="619" height="1" fill="#ffa500"/>
<rect x="5" y="292" width="619" height="1" fill="#ffd700"/>
<g id="wm" shape-rendering="auto">
<defs>
<linearGradient id="cg" x1="1" y1="0" x2="0" y2="1">
<stop offset="0" stop-color="#ee6a1e"/><stop offset="0.55" stop-color="#d8361a"/><stop offset="1" stop-color="#c42614"/>
</linearGradient>
<linearGradient id="yg" x1="0" y1="0" x2="0.3" y2="1">
<stop offset="0" stop-color="#fbe69a"/><stop offset="0.6" stop-color="#f6c653"/><stop offset="1" stop-color="#eea628"/>
</linearGradient>
<linearGradient id="gg" x1="0" y1="0" x2="0" y2="1">
<stop offset="0" stop-color="#b4b4b4"/><stop offset="1" stop-color="#9c9c9c"/>
</linearGradient>
</defs>
<circle cx="531" cy="442.8" r="22.7" fill="url(#cg)"/>
<path d="M518.6,460.8 C523,459 528,457 532,455 C536.5,452.5 540.5,448 543.2,442.5 C545.5,437.5 545.3,432.5 542.3,430.6 C540.5,429 537.5,428.8 535.6,429.6 C534,427.8 530,427.6 528.3,428.2 C525.8,428.8 524,431.5 524,434.2 C521,435 518.6,437.5 518.2,440.5 C517.8,444 519,447 521.5,448.3 C524.5,449.4 529.5,449.2 532.5,447.8 C534,448.5 536.8,448.3 536.8,448.3 C535,450 533,451.2 531,452.2 C527,454 522,456.5 518.6,460.8 Z" fill="url(#yg)"/>
<path d="M527.8,441 C529,439.6 531.5,439 533.4,440.4 C535.2,441.8 536.2,444 536,446 C535.8,447.5 535.2,448.3 534.5,449" fill="none" stroke="#d8401a" stroke-width="2.3" stroke-linecap="round"/>
<g fill="url(#gg)">
<!-- 中 -->
<polygon points="560,428.6 563.8,430 563.8,446.2 560,446.2"/>
<polygon points="560,429.7 584,429.7 584,431.9 560,431.9"/>
<polygon points="580,429.5 583,428 585,430 584.2,445.8 580,445.8"/>
<polygon points="563,441 580.5,441 580.5,443.1 563,443.1"/>
<polygon points="570.3,424 574.5,425.2 574.5,450 572.4,453.2 570.3,450"/>
<!-- 金 -->
<polygon points="600.5,423.8 608.6,425.8 606.6,429 600.5,435.6 593,440.2 588.3,441.8 595.6,431.5"/>
<polygon points="605.8,428.8 612.5,432 621,435.5 616.8,440.5 610.5,437.5 604.2,431.8"/>
<polygon points="600,435.5 610.2,435.5 610.2,437.6 600,437.6"/>
<polygon points="592,441.6 617.2,441.6 617.2,443.3 592,443.3"/>
<polygon points="602.6,435.7 606.6,435.7 606.6,450.8 602.6,450.8"/>
<polygon points="593,444.3 597,445 600.6,448 599.5,450.6 596.5,450.6 594.5,448"/>
<polygon points="610,444 613,442.8 616.6,447.4 614.4,449.2"/>
<polygon points="590.1,450.7 619.4,450.7 619.4,452.7 590.1,452.7"/>
<polygon points="616,448.4 619.4,450.8 613.5,450.8"/>
<!-- 网 -->
<polygon points="625,424 629.2,425.2 629.2,452.4 625,452.4"/>
<polygon points="625,424.1 650.4,424.1 650.4,427.1 625,427.1"/>
<polygon points="644.9,424.5 650.2,424.5 650,447.5 647,450.5 639.8,452.4 644.9,447"/>
</g>
<g fill="none" stroke="url(#gg)" stroke-width="3.6" stroke-linecap="butt">
<path d="M631,428.5L638.5,444.5M638,428.5L630.8,444.5M637.5,428.5L644,444.5M644,428.5L633.5,450"/>
</g>
<text x="560" y="464" fill="#a8a8a8" font-size="9.3" textLength="89.5" lengthAdjust="spacingAndGlyphs">CNGOLD.COM.CN</text>
<g fill="none" stroke="#8e8e8e" stroke-width="0.95">
<!-- 中 at 510 -->
<g transform="translate(511.5,468) scale(1.1)"><rect x="1.5" y="3.5" width="8" height="4"/><path d="M5.5,0.5V11"/></g>
<!-- 文 -->
<g transform="translate(531.5,468) scale(1.1)"><path d="M5.5,0V2M0.5,2.5H10.5M2.5,3.5L10,10.5M8.5,3.5L1,10.5"/></g>
<!-- 财 -->
<g transform="translate(552.5,468) scale(1.1)"><rect x="0.5" y="1.5" width="3.5" height="6"/><path d="M2.2,2.5V6.5M1.5,8L0.5,10.5M3,8L4.5,10.5M5,3.5H10.5M8.5,0.5V10.5L7.5,10M8,4.5L5,9"/></g>
<!-- 经 -->
<g transform="translate(573,468) scale(1.1)"><path d="M3,0.5L1,4H3.5L1,7.5L4,7M0.5,10L4,9M5,1.5H10L5,5.5M6.5,2.5L10.5,5M6,7.5H10M8,5.5V10.5M5,10.5H10.5"/></g>
<!-- 新 -->
<g transform="translate(593.5,468) scale(1.1)"><path d="M2.75,0V1.5M0.5,1.5H5M1.5,2.5L2,3.5M4,2.5L3.5,3.5M0.5,4H5M0.5,6H5M2.75,4V11M2.5,7L0.5,10M3,7L5,9M10,0.5L6.5,2V10.5M6.5,5H10.5M8.5,5V11"/></g>
<!-- 媒 -->
<g transform="translate(614,468) scale(1.1)"><path d="M2,0.5L0.5,7L4,10.5M0,4H4.5L1,10.5M6,0.5V4.5M9.5,0.5V4.5M5,1.5H10.5M6,3H9.5M6,4.5H9.5M5,6.5H10.5M7.75,5V11M7.5,7L5,10M8,7L10.5,10"/></g>
<!-- 体 -->
<g transform="translate(635,468) scale(1.1)"><path d="M3,0.5L0.5,5M2,3V11M4,3H10.5M7.25,0.5V11M7,3.5L4,8.5M7.5,3.5L10.5,8.5M5.5,8.5H9"/></g>
</g>
</g>

<rect x="4" y="3" width="621" height="1" fill="#fff"/>
<rect x="4" y="329" width="621" height="1" fill="#fff"/>
<rect x="4" y="3" width="1" height="327" fill="#fff"/>
<rect x="624" y="3" width="1" height="327" fill="#fff"/>
<rect x="4" y="331" width="621" height="1" fill="#fff"/>
<rect x="4" y="473" width="621" height="1" fill="#fff"/>
<rect x="4" y="331" width="1" height="143" fill="#fff"/>
<rect x="624" y="331" width="1" height="143" fill="#fff"/>
<rect x="625" y="29" width="2" height="1" fill="#fff"/>
<text x="630" y="32" fill="#fff" font-size="9.6" letter-spacing="-0.3" text-anchor="start" >30.315</text>
<rect x="625" y="62" width="2" height="1" fill="#fff"/>
<text x="630" y="65" fill="#fff" font-size="9.6" letter-spacing="-0.3" text-anchor="start" >28.785</text>
<rect x="625" y="95" width="2" height="1" fill="#fff"/>
<text x="630" y="98" fill="#fff" font-size="9.6" letter-spacing="-0.3" text-anchor="start" >27.255</text>
<rect x="625" y="128" width="2" height="1" fill="#fff"/>
<text x="630" y="131" fill="#fff" font-size="9.6" letter-spacing="-0.3" text-anchor="start" >25.725</text>
<rect x="625" y="161" width="2" height="1" fill="#fff"/>
<text x="630" y="164" fill="#fff" font-size="9.6" letter-spacing="-0.3" text-anchor="start" >24.240</text>
<rect x="625" y="227" width="2" height="1" fill="#fff"/>
<text x="630" y="230" fill="#fff" font-size="9.6" letter-spacing="-0.3" text-anchor="start" >21.180</text>
<rect x="625" y="260" width="2" height="1" fill="#fff"/>
<text x="630" y="263" fill="#fff" font-size="9.6" letter-spacing="-0.3" text-anchor="start" >19.650</text>
<rect x="625" y="326" width="2" height="1" fill="#fff"/>
<text x="630" y="329" fill="#fff" font-size="9.6" letter-spacing="-0.3" text-anchor="start" >16.635</text>
<rect x="625" y="194" width="2" height="1" fill="#fff"/>
<rect x="625" y="293" width="2" height="1" fill="#fff"/>
<rect x="626" y="67" width="36" height="11" fill="#ffa500"/>
<text x="630" y="74.5" fill="#000" font-size="9.6" letter-spacing="-0.3" text-anchor="start" >28.300</text>
<rect x="626" y="190" width="36" height="11" fill="#ffa500"/>
<text x="630" y="197.5" fill="#000" font-size="9.6" letter-spacing="-0.3" text-anchor="start" >22.600</text>
<rect x="626" y="286" width="36" height="11" fill="#ffd700"/>
<text x="630" y="293.5" fill="#000" font-size="9.6" letter-spacing="-0.3" text-anchor="start" >18.200</text>
<rect x="626" y="165" width="36" height="11" fill="#ffffff"/>
<text x="630" y="172.5" fill="#000" font-size="9.6" letter-spacing="-0.3" text-anchor="start" >23.817</text>
<text x="564" y="23" fill="#c0c0c0" font-size="10" letter-spacing="0" text-anchor="start"  textLength="59" lengthAdjust="spacing">50.0 = 30.509</text>
<text x="564" y="122" fill="#c0c0c0" font-size="10" letter-spacing="0" text-anchor="start"  textLength="59" lengthAdjust="spacing">38.2 = 25.942</text>
<text x="564" y="244" fill="#c0c0c0" font-size="10" letter-spacing="0" text-anchor="start"  textLength="59" lengthAdjust="spacing">23.6 = 20.291</text>
<rect x="625" y="333" width="2" height="1" fill="#fff"/>
<text x="628" y="342" fill="#fff" font-size="9.6" letter-spacing="-0.3" text-anchor="start" >3.0406</text>
<rect x="625" y="427" width="2" height="1" fill="#fff"/>
<text x="629" y="431" fill="#fff" font-size="9.6" letter-spacing="-0.3" text-anchor="start" >0.00</text>
<rect x="625" y="471" width="2" height="1" fill="#fff"/>
<text x="628" y="470" fill="#fff" font-size="9.6" letter-spacing="-0.3" text-anchor="start" >-1.4522</text>
<rect x="5" y="474" width="1" height="3" fill="#fff"/>
<text x="4" y="486" fill="#fff" font-size="9.6" letter-spacing="0" text-anchor="start"  textLength="52.5" lengthAdjust="spacing">30 Aug 2020</text>
<rect x="69" y="474" width="1" height="3" fill="#fff"/>
<text x="68" y="486" fill="#fff" font-size="9.6" letter-spacing="0" text-anchor="start"  textLength="52.5" lengthAdjust="spacing">20 Dec 2020</text>
<rect x="133" y="474" width="1" height="3" fill="#fff"/>
<text x="132" y="486" fill="#fff" font-size="9.6" letter-spacing="0" text-anchor="start"  textLength="51" lengthAdjust="spacing">11 Apr 2021</text>
<rect x="197" y="474" width="1" height="3" fill="#fff"/>
<text x="196" y="486" fill="#fff" font-size="9.6" letter-spacing="0" text-anchor="start"  textLength="47.5" lengthAdjust="spacing">1 Aug 2021</text>
<rect x="261" y="474" width="1" height="3" fill="#fff"/>
<text x="260" y="486" fill="#fff" font-size="9.6" letter-spacing="0" text-anchor="start"  textLength="54.5" lengthAdjust="spacing">21 Nov 2021</text>
<rect x="325" y="474" width="1" height="3" fill="#fff"/>
<text x="324" y="486" fill="#fff" font-size="9.6" letter-spacing="0" text-anchor="start"  textLength="51.5" lengthAdjust="spacing">13 Mar 2022</text>
<rect x="389" y="474" width="1" height="3" fill="#fff"/>
<text x="389" y="486" fill="#fff" font-size="9.6" letter-spacing="0" text-anchor="start"  textLength="41" lengthAdjust="spacing">3 Jul 2022</text>
<rect x="453" y="474" width="1" height="3" fill="#fff"/>
<text x="453" y="486" fill="#fff" font-size="9.6" letter-spacing="0" text-anchor="start"  textLength="50" lengthAdjust="spacing">23 Oct 2022</text>
<polygon points="8,10 15,10 11.5,14" fill="#fff"/>
<text x="20" y="15" fill="#fff" font-size="9.6" letter-spacing="0" text-anchor="start"  textLength="73" lengthAdjust="spacing">XAGUSD,Weekly</text>
<text x="99.5" y="15" fill="#fff" font-size="9.6" letter-spacing="0" text-anchor="start"  textLength="120.5" lengthAdjust="spacing">24.029 24.532 23.106 23.817</text>
<text x="10" y="344" fill="#fff" font-size="9.6" letter-spacing="0" text-anchor="start"  textLength="189.5" lengthAdjust="spacing">MACD(12,26,9) 0.7844 0.2065 0.7513 0.0000</text>

</svg>
</body></html>
